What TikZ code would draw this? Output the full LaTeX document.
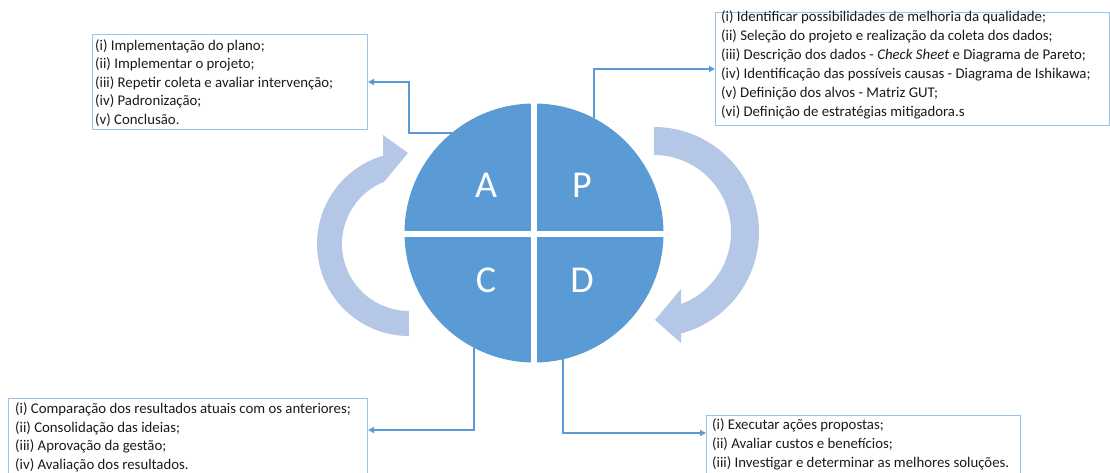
\documentclass[tikz,border=0pt]{standalone}
\usepackage{fontspec}
\setmainfont{Carlito}
\usetikzlibrary{arrows.meta}
\definecolor{circblue}{HTML}{5B9BD5}
\definecolor{arrblue}{HTML}{B4C7E7}
\definecolor{boxblue}{HTML}{9DC3E6}
\definecolor{linkblue}{HTML}{5B9BD5}
\definecolor{txtc}{HTML}{1A1A1A}
\begin{document}
\begin{tikzpicture}[x=1pt,y=-1pt,
  box/.style={draw=boxblue, line width=1pt, inner sep=0pt, anchor=north west},
  txt/.style={font=\fontsize{14.8}{19}\selectfont, align=left, anchor=base west, inner sep=0pt, text=txtc},
  link/.style={draw=linkblue, line width=1.4pt, -{Triangle[length=6pt,width=6pt]}},
  letter/.style={text=white, font=\fontsize{38}{38}\selectfont, anchor=base, inner sep=0pt},
  cyc/.style={fill=arrblue}]
\path[use as bounding box] (0,0) rectangle (1110,472);
\clip (0,0) rectangle (1110,472);

% cycle arrows
\fill[cyc] (409,336) arc[start angle=90, end angle=253.6, radius=92]
  -- (383,135) -- (408,153) -- (383,183) -- (383,182.2)
  arc[start angle=247.2, end angle=90, radius=67] -- cycle;
\fill[cyc] (654,127) arc[start angle=-90, end angle=75.1, radius=105]
  -- (681,343) -- (655,320) -- (681,289) -- (681,304.1)
  arc[start angle=69.5, end angle=-90, radius=77] -- cycle;

% PDCA circle
\fill[circblue] (534,233) circle[radius=129.5];
\draw[white, line width=6pt] (534,102) -- (534,364);
\draw[white, line width=6pt] (403,233.5) -- (665,233.5);
\node[letter] (A) at (486,197) {A};
\node[letter] (P) at (582,197) {P};
\node[letter] (C) at (486,292.5) {C};
\node[letter] (D) at (582,292.5) {D};

% boxes
\node[box, minimum width=275, minimum height=95] (boxA) at (92,34) {};
\node[box, minimum width=394, minimum height=113] (boxP) at (715,12) {};
\node[box, minimum width=359, minimum height=100] (boxC) at (8,398) {};
\node[box, minimum width=314, minimum height=90] (boxD) at (706,415) {};

% texts (anchored at the baseline of their last line)
\node[txt, font=\fontsize{14.8}{18.6}\selectfont] (tA) at (95,124.4) {(i) Implementação do plano;\\(ii) Implementar o projeto;\\(iii) Repetir coleta e avaliar intervenção;\\(iv) Padronização;\\(v) Conclusão.};
\node[txt] (tP) at (721,116) {(i) Identificar possibilidades de melhoria da qualidade;\\(ii) Seleção do projeto e realização da coleta dos dados;\\(iii) Descrição dos dados - \textit{Check Sheet} e Diagrama de Pareto;\\(iv) Identificação das possíveis causas - Diagrama de Ishikawa;\\(v) Definição dos alvos - Matriz GUT;\\(vi) Definição de estratégias mitigadora.s};
\node[txt, font=\fontsize{14.8}{18.6}\selectfont] (tC) at (15,469.5) {(i) Comparação dos resultados atuais com os anteriores;\\(ii) Consolidação das ideias;\\(iii) Aprovação da gestão;\\(iv) Avaliação dos resultados.};
\node[txt] (tD) at (712,467) {(i) Executar ações propostas;\\(ii) Avaliar custos e benefícios;\\(iii) Investigar e determinar as melhores soluções.};

% connectors
\coordinate (sA) at (452,133);
\coordinate (sP) at (594,118);
\coordinate (sC) at (474,348);
\coordinate (sD) at (563,359);
\draw[link] (sA) -- (409,133) |- (boxA.east);
\draw[link] (sP) |- (boxP.west);
\draw[link] (sC) |- (boxC.north east |- 0,430);
\draw[link] (sD) |- (boxD.north west |- 0,433);
\end{tikzpicture}
\end{document}
